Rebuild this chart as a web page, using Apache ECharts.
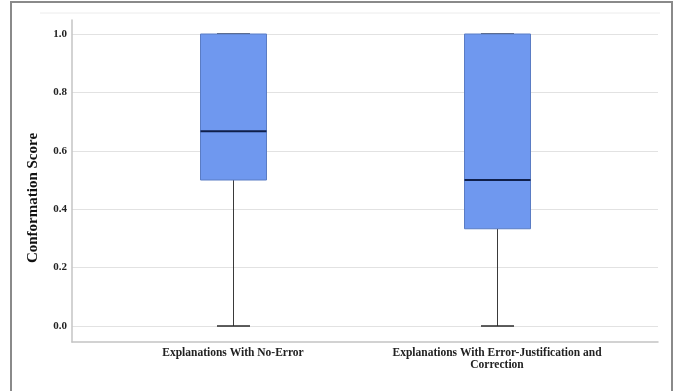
<!DOCTYPE html>
<html>
<head>
<meta charset="utf-8">
<script src="https://cdn.jsdelivr.net/npm/echarts@6/dist/echarts.min.js"></script>
<style>
html,body{margin:0;padding:0;background:#fff;}
#chart{width:679px;height:391px;}
</style>
</head>
<body>
<div id="chart"></div>
<script>
// ---- data ----
const categories = ['Explanations With No-Error', 'Explanations With Error-Justification and\nCorrection'];
const mins    = [0.0, 0.0];
const q1s     = [0.5, 0.333];
const medians = [0.667, 0.5];
const q3s     = [1.0, 1.0];
const maxs    = [1.0, 1.0];
const yTicks  = [0, 0.2, 0.4, 0.6, 0.8, 1.0];
const yTitle  = 'Conformation Score';

const FONT = '"Liberation Serif", "Times New Roman", serif';
const boxData = categories.map((c, i) => [i, mins[i], q1s[i], medians[i], q3s[i], maxs[i]]);

const chart = echarts.init(document.getElementById('chart'), null, {renderer: 'canvas'});
chart.setOption({
  animation: false,
  backgroundColor: '#fff',
  grid: [
    {left: 72, right: 21, top: 20, bottom: 49},   // frame axes
    {left: 72, right: 21, top: 34, bottom: 65},   // split lines + y labels
    {left: 101, right: 50, top: 34, bottom: 65}   // boxes + x labels
  ],
  xAxis: [
    {gridIndex: 0, type: 'category', data: [''], axisLine: {show: true, lineStyle: {color: '#c4c4c4', width: 1.5}},
     axisTick: {show: false}, axisLabel: {show: false}, splitLine: {show: false}},
    {gridIndex: 1, type: 'category', data: [''], show: false},
    {gridIndex: 2, type: 'category', data: categories, axisLine: {show: false}, axisTick: {show: false},
     axisLabel: {interval: 0, margin: 21, fontFamily: FONT, fontWeight: 'bold', fontSize: 11.5, color: '#222', lineHeight: 12}}
  ],
  yAxis: [
    {gridIndex: 0, type: 'value', min: 0, max: 1, axisLine: {show: true, lineStyle: {color: '#c4c4c4', width: 1.5}},
     axisTick: {show: false}, axisLabel: {show: false}, splitLine: {show: false}},
    {gridIndex: 1, type: 'value', min: yTicks[0], max: yTicks[yTicks.length - 1], interval: 0.2,
     axisLine: {show: false}, axisTick: {show: false},
     axisLabel: {margin: 5, fontFamily: FONT, fontWeight: 'bold', fontSize: 11, color: '#222', formatter: v => v.toFixed(1)},
     splitLine: {show: true, lineStyle: {color: '#e2e2e2', width: 1}}},
    {gridIndex: 2, type: 'value', min: 0, max: 1, show: false}
  ],
  graphic: [
    {type: 'rect', shape: {x: 11, y: 2, width: 661, height: 400}, style: {fill: 'none', stroke: '#8a8a8a', lineWidth: 2}, silent: true},
    {type: 'line', shape: {x1: 40, y1: 13, x2: 660, y2: 13}, style: {stroke: '#ececec', lineWidth: 1}, silent: true},
    {type: 'text', x: 33, y: 198, rotation: Math.PI / 2,
     style: {text: yTitle, font: 'bold 15px ' + FONT, fill: '#111', align: 'center', verticalAlign: 'middle'}}
  ],
  series: [{
    type: 'custom',
    xAxisIndex: 2, yAxisIndex: 2,
    data: boxData,
    encode: {x: 0, y: [1, 2, 3, 4, 5]},
    renderItem: function (params, api) {
      const idx = api.value(0);
      const band = api.size([1, 0])[0];
      const bw = band * 0.25;
      const cap = bw / 2;
      const pMin = api.coord([idx, api.value(1)]);
      const pQ1 = api.coord([idx, api.value(2)]);
      const pMed = api.coord([idx, api.value(3)]);
      const pQ3 = api.coord([idx, api.value(4)]);
      const pMax = api.coord([idx, api.value(5)]);
      const cx = Math.round(pMin[0]) + 0.5;
      const wStyle = {stroke: '#3a3a3a', lineWidth: 1};
      return {
        type: 'group',
        children: [
          {type: 'line', shape: {x1: cx, y1: pMin[1], x2: cx, y2: pQ1[1]}, style: wStyle},
          {type: 'line', shape: {x1: cx, y1: pQ3[1], x2: cx, y2: pMax[1]}, style: wStyle},
          {type: 'line', shape: {x1: cx - cap / 2, y1: pMin[1], x2: cx + cap / 2, y2: pMin[1]}, style: {stroke: '#2a2a2a', lineWidth: 1.5}},
          {type: 'line', shape: {x1: cx - cap / 2, y1: pMax[1], x2: cx + cap / 2, y2: pMax[1]}, style: {stroke: '#2a2a2a', lineWidth: 1.5}},
          {type: 'rect', shape: {x: cx - bw / 2, y: pQ3[1], width: bw, height: pQ1[1] - pQ3[1]},
           style: {fill: '#6f98ef', stroke: '#5a7cc4', lineWidth: 1}},
          {type: 'line', shape: {x1: cx - bw / 2, y1: pMed[1], x2: cx + bw / 2, y2: pMed[1]},
           style: {stroke: '#0f1f4a', lineWidth: 2}}
        ]
      };
    }
  }]
});
</script>
</body>
</html>
